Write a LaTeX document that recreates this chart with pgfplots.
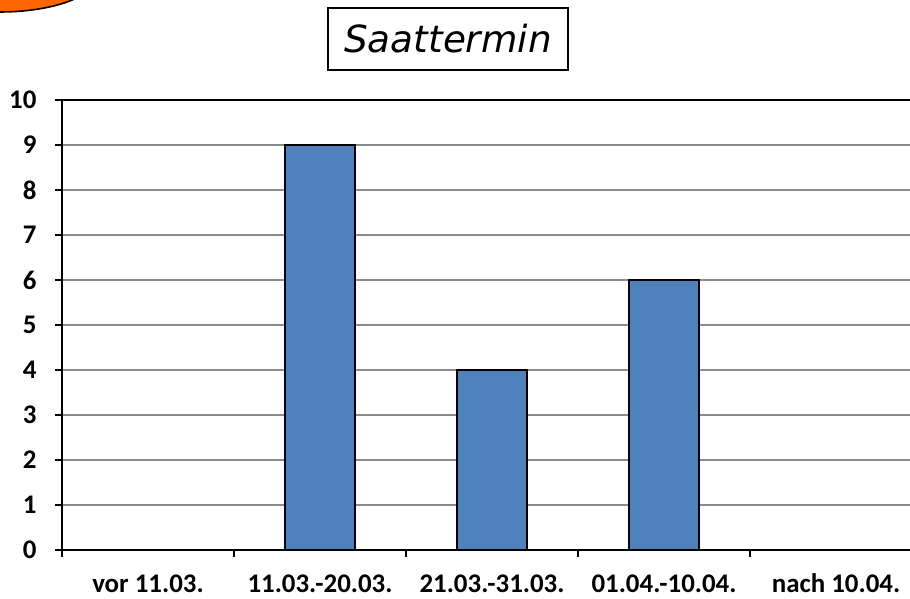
\documentclass[border=0pt]{standalone}
\usepackage{pgfplots}
\pgfplotsset{compat=1.18}
\usepackage{fontspec}
\setmainfont{Carlito}
\newfontfamily\titlefont{DejaVu Sans}
\definecolor{barblue}{HTML}{4F81BD}
\definecolor{orangeblob}{HTML}{FF6600}
\begin{document}
\begin{tikzpicture}[x=1bp,y=1bp]
\useasboundingbox (0,0) rectangle (910,599);
% orange shape cut by the top-left corner
\begin{scope}
\clip (0,0) rectangle (910,599);
\draw[fill=orangeblob, line width=1.6bp] (0,624) ellipse [x radius=98, y radius=37];
\end{scope}
\node[draw, line width=2bp, inner xsep=10bp, inner ysep=6bp, minimum width=240bp, minimum height=62bp,
      font=\titlefont\itshape\fontsize{37.5}{40}\selectfont] at (448,560) {Saattermin};
\begin{axis}[
  at={(62bp,49bp)}, anchor=south west,
  scale only axis,
  width=860bp, height=450bp,
  xmin=-0.5, xmax=4.5,
  ymin=0, ymax=10,
  ytick={0,1,...,10},
  xtick={-0.5,0.5,...,4.5},
  x tick label as interval,
  xticklabels={vor 11.03.,11.03.-20.03.,21.03.-31.03.,01.04.-10.04.,nach 10.04.},
  xtick pos=bottom, ytick pos=left,
  tick align=outside,
  major tick length=7bp,
  tick style={black, line width=1.2bp},
  axis line style={line width=1.4bp},
  ymajorgrids,
  grid style={gray!90, line width=1.1bp},
  ticklabel style={font=\bfseries\fontsize{27}{30}\selectfont},
  /pgf/number format/assume math mode=true,
  xticklabel style={anchor=base, yshift=-36bp},
  yticklabel style={xshift=-15bp},
  ybar, bar width=70bp,
]
\addplot[fill=barblue, draw=black, line width=1.4bp] coordinates {(0,0) (1,9) (2,4) (3,6) (4,0)};
\end{axis}
\end{tikzpicture}
\end{document}
